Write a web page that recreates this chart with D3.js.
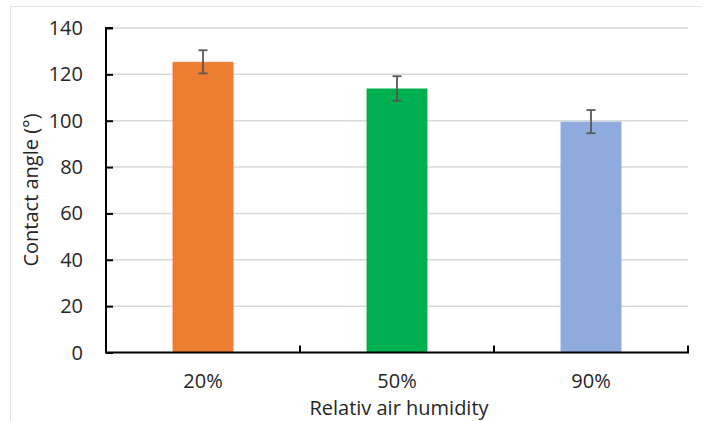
<!DOCTYPE html>
<html><head><meta charset="utf-8">
<script src="https://cdn.jsdelivr.net/npm/d3@7"></script>
<style>body{margin:0;background:#fff}svg{display:block}text{font-family:"Open Sans",sans-serif;fill:#262626}</style>
</head><body>
<svg id="c" width="708" height="421"></svg>
<script>
const categories = ["20%", "50%", "90%"];
const values = [125.4, 113.9, 99.6];
const errors = [5.0, 5.3, 5.0];
const colors = ["#ED7D31", "#00B050", "#8FAADC"];
const yTicks = [0, 20, 40, 60, 80, 100, 120, 140];

const svg = d3.select("#c");
const m = {left: 106, right: 688, top: 28, bottom: 352.5};

svg.append("path").attr("d", "M10.5,430V6.5H701.5").attr("fill","none").attr("stroke","#e3e3e3").attr("stroke-width",1);

const x = d3.scaleBand().domain(categories).range([m.left, m.right]).paddingInner(0.686).paddingOuter(0.343);
const y = d3.scaleLinear().domain([0, 140]).range([m.bottom, m.top]);

// gridlines
svg.append("g").selectAll("line").data(yTicks.filter(d=>d>0)).join("line")
  .attr("x1", m.left).attr("x2", m.right).attr("y1", d=>y(d)).attr("y2", d=>y(d))
  .attr("stroke", "#d9d9d9").attr("stroke-width", 1.5);

// bars
svg.append("g").selectAll("rect").data(categories).join("rect")
  .attr("x", d=>x(d)).attr("width", x.bandwidth())
  .attr("y", (d,i)=>y(values[i])).attr("height", (d,i)=>y(0)-y(values[i]))
  .attr("fill", (d,i)=>colors[i]);

// error bars
const eg = svg.append("g").attr("stroke", "#595959").attr("stroke-width", 1.8);
categories.forEach((c,i)=>{
  const cx = x(c) + x.bandwidth()/2;
  const t = y(values[i]+errors[i]), b = y(values[i]-errors[i]);
  eg.append("line").attr("x1",cx).attr("x2",cx).attr("y1",t).attr("y2",b);
  eg.append("line").attr("x1",cx-4.5).attr("x2",cx+4.5).attr("y1",t).attr("y2",t);
  eg.append("line").attr("x1",cx-4.5).attr("x2",cx+4.5).attr("y1",b).attr("y2",b);
});

// y axis
const ya = svg.append("g").attr("transform", `translate(${m.left},0)`)
  .call(d3.axisRight(y).tickValues(yTicks).tickSize(7).tickFormat(""));
ya.select(".domain").attr("stroke","#000").attr("stroke-width",2).attr("d", `M7,${m.top}H0V${m.bottom}`);
ya.selectAll(".tick line").attr("stroke","#000").attr("stroke-width",2);
svg.append("g").selectAll("text").data(yTicks).join("text")
  .attr("x", 83).attr("y", d=>y(d)).attr("dy","0.35em").attr("text-anchor","end")
  .attr("font-size", 20).text(d=>d);

// x axis
const xEdges = [m.left, ...categories.slice(1).map(c=>x(c) - x.step()*x.paddingInner()/2), m.right];
svg.append("line").attr("x1", m.left-1).attr("x2", m.right+1).attr("y1", m.bottom).attr("y2", m.bottom)
  .attr("stroke","#000").attr("stroke-width",2);
svg.append("g").selectAll("line").data(xEdges).join("line")
  .attr("x1", d=>d).attr("x2", d=>d).attr("y1", m.bottom).attr("y2", m.bottom-7)
  .attr("stroke","#000").attr("stroke-width",2);
svg.append("g").selectAll("text").data(categories).join("text")
  .attr("x", d=>x(d)+x.bandwidth()/2).attr("y", 381).attr("dy","0.35em").attr("text-anchor","middle")
  .attr("font-size", 20).text(d=>d);

svg.append("text").attr("x", 399).attr("y", 408).attr("dy","0.35em").attr("text-anchor","middle")
  .attr("font-size", 20).text("Relativ air humidity");
svg.append("text").attr("transform","translate(31,190) rotate(-90)").attr("dy","0.35em").attr("text-anchor","middle")
  .attr("font-size", 20).text("Contact angle (°)");
</script>
</body></html>
